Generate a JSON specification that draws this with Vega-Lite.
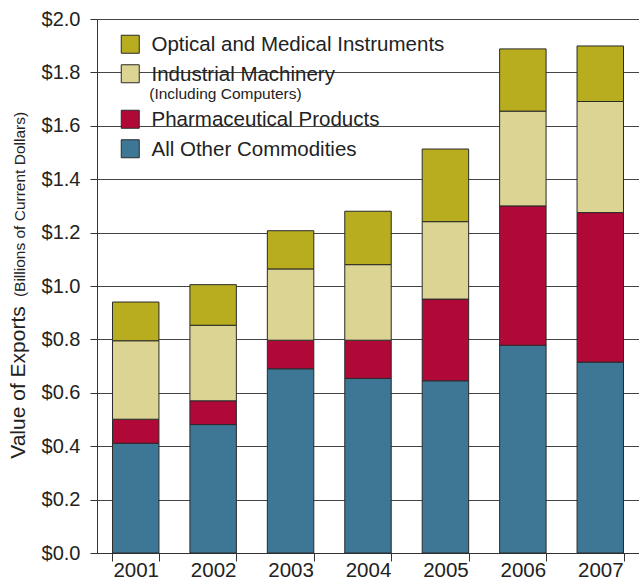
{
  "$schema": "https://vega.github.io/schema/vega-lite/v6.json",
  "width": 542,
  "height": 534,
  "autosize": {"type": "none"},
  "padding": {"left": 97, "top": 19, "right": 0, "bottom": 26},
  "background": "white",
  "config": {
    "font": "Liberation Sans",
    "view": {"stroke": null}
  },
  "layer": [
    {
      "data": {
        "values": [
          {"year": "2001", "category": "All Other Commodities", "value": 0.411},
          {"year": "2001", "category": "Pharmaceutical Products", "value": 0.090},
          {"year": "2001", "category": "Industrial Machinery", "value": 0.294},
          {"year": "2001", "category": "Optical and Medical Instruments", "value": 0.145},
          {"year": "2002", "category": "All Other Commodities", "value": 0.481},
          {"year": "2002", "category": "Pharmaceutical Products", "value": 0.089},
          {"year": "2002", "category": "Industrial Machinery", "value": 0.283},
          {"year": "2002", "category": "Optical and Medical Instruments", "value": 0.152},
          {"year": "2003", "category": "All Other Commodities", "value": 0.690},
          {"year": "2003", "category": "Pharmaceutical Products", "value": 0.107},
          {"year": "2003", "category": "Industrial Machinery", "value": 0.267},
          {"year": "2003", "category": "Optical and Medical Instruments", "value": 0.143},
          {"year": "2004", "category": "All Other Commodities", "value": 0.654},
          {"year": "2004", "category": "Pharmaceutical Products", "value": 0.143},
          {"year": "2004", "category": "Industrial Machinery", "value": 0.283},
          {"year": "2004", "category": "Optical and Medical Instruments", "value": 0.200},
          {"year": "2005", "category": "All Other Commodities", "value": 0.645},
          {"year": "2005", "category": "Pharmaceutical Products", "value": 0.306},
          {"year": "2005", "category": "Industrial Machinery", "value": 0.290},
          {"year": "2005", "category": "Optical and Medical Instruments", "value": 0.272},
          {"year": "2006", "category": "All Other Commodities", "value": 0.778},
          {"year": "2006", "category": "Pharmaceutical Products", "value": 0.522},
          {"year": "2006", "category": "Industrial Machinery", "value": 0.355},
          {"year": "2006", "category": "Optical and Medical Instruments", "value": 0.233},
          {"year": "2007", "category": "All Other Commodities", "value": 0.715},
          {"year": "2007", "category": "Pharmaceutical Products", "value": 0.560},
          {"year": "2007", "category": "Industrial Machinery", "value": 0.416},
          {"year": "2007", "category": "Optical and Medical Instruments", "value": 0.208}
        ]
      },
      "transform": [
        {"calculate": "indexof(['All Other Commodities', 'Pharmaceutical Products', 'Industrial Machinery', 'Optical and Medical Instruments'], datum.category)", "as": "stackOrder"}
      ],
      "mark": {"type": "bar", "stroke": "#2a2a2a", "strokeWidth": 1},
      "encoding": {
        "x": {
          "field": "year",
          "type": "nominal",
          "scale": {"paddingInner": 0.4, "paddingOuter": 0.2},
          "axis": {
            "title": null,
            "labelAngle": 0,
            "tickBand": "extent",
            "tickSize": 8,
            "labelPadding": 15,
            "labelFontSize": 20.5,
            "labelBaseline": "alphabetic",
            "labelColor": "#222",
            "domainColor": "#333",
            "tickColor": "#333",
            "grid": false
          }
        },
        "y": {
          "field": "value",
          "type": "quantitative",
          "stack": "zero",
          "scale": {"domain": [0, 2], "nice": false},
          "axis": {
            "title": "Value of Exports",
            "titleFontSize": 21,
            "titleFontWeight": "normal",
            "titleColor": "#222",
            "titleAngle": -90,
            "titleAlign": "center",
            "titleBaseline": "alphabetic",
            "titleX": -73,
            "titleY": 363,
            "values": [0, 0.2, 0.4, 0.6, 0.8, 1.0, 1.2, 1.4, 1.6, 1.8, 2.0],
            "format": "$.1f",
            "labelFontSize": 20,
            "labelColor": "#222",
            "labelPadding": 10,
            "tickSize": 7,
            "grid": true,
            "gridColor": "#444",
            "gridWidth": 1,
            "domainColor": "#333",
            "tickColor": "#333"
          }
        },
        "order": {"field": "stackOrder", "type": "quantitative", "sort": "ascending"},
        "color": {
          "field": "category",
          "type": "nominal",
          "scale": {
            "domain": ["Optical and Medical Instruments", "Industrial Machinery", "Pharmaceutical Products", "All Other Commodities"],
            "range": ["#b8ad1f", "#dcd492", "#b00837", "#3e7796"]
          },
          "legend": {
            "title": null,
            "orient": "none",
            "legendX": 23,
            "legendY": 15,
            "padding": 0,
            "symbolType": "square",
            "symbolSize": 324,
            "symbolStrokeColor": "#2a2a2a",
            "symbolStrokeWidth": 1,
            "symbolOpacity": 1,
            "labelFontSize": 20.5,
            "labelColor": "#222",
            "labelOffset": 11,
            "labelLimit": 500,
            "rowPadding": 6.5,
            "labelBaseline": "alphabetic",
            "labelExpr": "datum.label == 'Industrial Machinery' ? ['Industrial Machinery', ' '] : datum.label",
            "encode": {"labels": {"update": {"dy": {"value": 7}, "lineHeight": {"value": 16}}}}
          }
        }
      }
    },
    {
      "data": {"values": [{"note": "(Including Computers)"}]},
      "mark": {"type": "text", "align": "left", "baseline": "alphabetic", "dx": 13.5, "fontSize": 15.5, "color": "#222"},
      "encoding": {
        "x": {"datum": "2001", "type": "nominal"},
        "y": {
          "datum": 1.700,
          "type": "quantitative",
          "axis": {
            "orient": "left",
            "title": "(Billions of Current Dollars)",
            "titleFontSize": 15.5,
            "titleFontWeight": "normal",
            "titleColor": "#222",
            "titleAngle": -90,
            "titleAlign": "center",
            "titleBaseline": "alphabetic",
            "titleX": -73,
            "titleY": 185,
            "labels": false,
            "ticks": false,
            "domain": false,
            "grid": false
          }
        },
        "text": {"field": "note"}
      }
    }
  ],
  "resolve": {"axis": {"y": "independent"}}
}
